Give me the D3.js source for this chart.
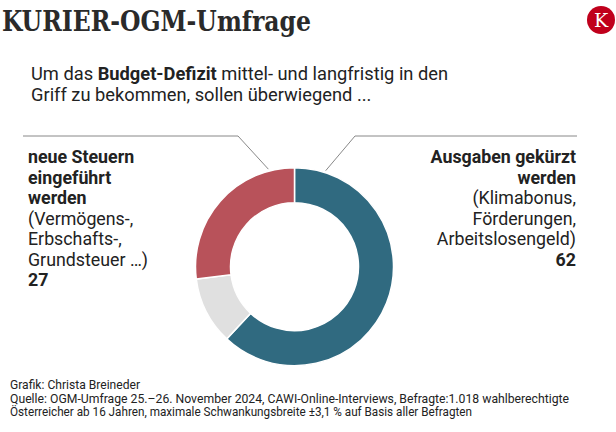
<!DOCTYPE html>
<html><head><meta charset="utf-8">
<script src="https://cdn.jsdelivr.net/npm/d3@7"></script>
<style>
html,body{margin:0;padding:0;background:#fff;}
svg{display:block;}
text{font-family:Roboto,"Noto Sans",sans-serif;fill:#222;}
</style></head>
<body>
<script>
const categories = ["Ausgaben gekürzt", "keine Angabe", "neue Steuern"];
const values = [62, 11, 27];
const colors = ["#306a80", "#e0e0e0", "#b8525a"];
const titleText = "KURIER-OGM-Umfrage";
const subtitleLines = [
  [{t:"Um das ",b:false},{t:"Budget-Defizit",b:true},{t:" mittel- und langfristig in den",b:false}],
  [{t:"Griff zu bekommen, sollen überwiegend ...",b:false}]
];
const leftLabel = [
  {t:"neue Steuern",b:true},{t:"eingeführt",b:true},{t:"werden",b:true},
  {t:"(Vermögens-,",b:false},{t:"Erbschafts-,",b:false},{t:"Grundsteuer …)",b:false},{t:"27",b:true}
];
const rightLabel = [
  {t:"Ausgaben gekürzt",b:true},{t:"werden",b:true},
  {t:"(Klimabonus,",b:false},{t:"Förderungen,",b:false},{t:"Arbeitslosengeld)",b:false},{t:"62",b:true}
];
const footerLines = [
  "Grafik: Christa Breineder",
  "Quelle: OGM-Umfrage 25.–26. November 2024, CAWI-Online-Interviews, Befragte:1.018 wahlberechtigte",
  "Österreicher ab 16 Jahren, maximale Schwankungsbreite ±3,1 % auf Basis aller Befragten"
];

const W = 616, H = 432;
const svg = d3.select("body").append("svg").attr("width", W).attr("height", H);

// Title
svg.append("text").attr("x", 2).attr("y", 31)
  .attr("textLength", 309).attr("lengthAdjust", "spacingAndGlyphs")
  .style("font-family", "'DejaVu Serif',serif").style("font-weight", "bold")
  .style("font-size", "27px").style("fill", "#2a2a2a").text(titleText);

// Logo
const logo = svg.append("g").attr("transform", "translate(601,20)");
logo.append("circle").attr("r", 14).attr("fill", "#c0001c");
logo.append("text").attr("y", 7).attr("text-anchor", "middle")
  .style("font-family", "'DejaVu Serif',serif").style("font-size", "19px")
  .style("fill", "#fff").text("K");

// Subtitle
subtitleLines.forEach((line, i) => {
  const t = svg.append("text").attr("x", 31).attr("y", 80 + i * 21).style("font-size", "18.3px");
  line.forEach(s => t.append("tspan").style("font-weight", s.b ? "bold" : "normal").text(s.t));
});

// Donut
const cx = 294.5, cy = 266.7, rOuter = 99, rInner = 64;
const pie = d3.pie().sort(null).value(d => d)(values);
const arc = d3.arc().innerRadius(rInner).outerRadius(rOuter);
const g = svg.append("g").attr("transform", `translate(${cx},${cy})`);
g.selectAll("path").data(pie).enter().append("path")
  .attr("d", arc).attr("fill", (d, i) => colors[i])
  .attr("stroke", "#fff").attr("stroke-width", 1.5);

// Leader lines
function pt(angleDeg, r) {
  const a = angleDeg * Math.PI / 180;
  return [cx + r * Math.sin(a), cy - r * Math.cos(a)];
}
const lineY = 136;
const lp = pt(-15, 101);
const rp = pt(18, 101);
const line = d3.line();
svg.append("path").attr("d", line([[23, lineY], [238, lineY], lp]))
  .attr("fill", "none").attr("stroke", "#888").attr("stroke-width", 1);
svg.append("path").attr("d", line([rp, [355, lineY], [577, lineY]]))
  .attr("fill", "none").attr("stroke", "#888").attr("stroke-width", 1);

// Labels
const lh = 20.5;
leftLabel.forEach((s, i) => {
  svg.append("text").attr("x", 28).attr("y", 163 + i * lh)
    .style("font-size", "17.8px").style("font-weight", s.b ? "bold" : "normal").text(s.t);
});
rightLabel.forEach((s, i) => {
  svg.append("text").attr("x", 576).attr("y", 163 + i * lh).attr("text-anchor", "end")
    .style("font-size", "17.8px").style("font-weight", s.b ? "bold" : "normal").text(s.t);
});

// Footer
const footerWidths = [130, 559, 462];
footerLines.forEach((t, i) => {
  svg.append("text").attr("x", 10).attr("y", 389 + i * 13.5)
    .attr("textLength", footerWidths[i]).attr("lengthAdjust", "spacingAndGlyphs")
    .style("font-size", "12.2px").text(t);
});
</script>
</body></html>
